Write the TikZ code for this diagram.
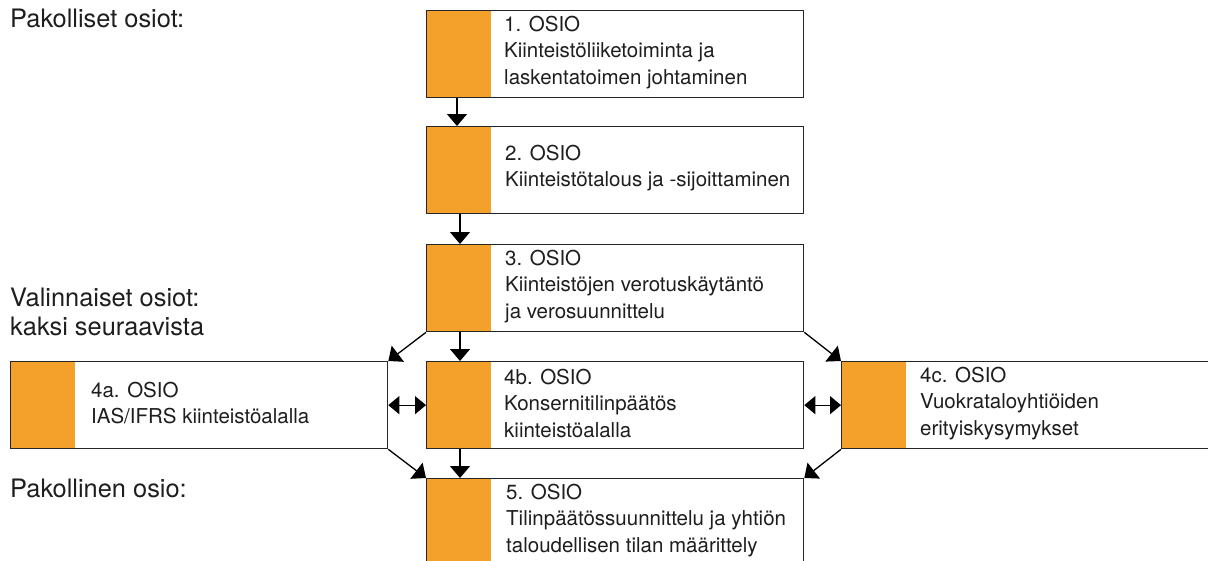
\documentclass[tikz,border=0pt]{standalone}
\usepackage{fontspec}
\setmainfont{TeX Gyre Heros}
\usetikzlibrary{arrows.meta}
\definecolor{osio}{HTML}{F3A12B}
\definecolor{edge}{HTML}{262626}
\definecolor{ink}{HTML}{1E1E1E}
\begin{document}
\begin{tikzpicture}[x=1pt,y=-1pt,
  osiobox/.style={draw=edge, line width=1.3pt, fill=white, minimum width=377pt,
    minimum height=87pt, inner sep=0pt, anchor=north west,
    path picture={\fill[osio] (path picture bounding box.north west) rectangle
      ([xshift=64pt]path picture bounding box.south west);}},
  osiotext/.style={anchor=west, align=left, inner sep=0pt, text=ink,
    font=\fontsize{20.5pt}{26.5pt}\selectfont},
  lbl/.style={align=left, inner sep=0pt, text=ink,
    font=\fontsize{25.4pt}{29pt}\selectfont},
  arr/.style={draw=black, line width=1.3pt, -{Triangle[width=20pt,length=12pt]}},
  darr/.style={draw=black, line width=1.3pt,
    {Triangle[width=18pt,length=11pt]}-{Triangle[width=18pt,length=11pt]}}]
\useasboundingbox (0,0) rectangle (1208,560);
\clip (0,0) rectangle (1208,560);

% labels
\node[lbl, anchor=base west] (l1) at (10,27) {Pakolliset osiot:};
\node[lbl, anchor=west] (l2) at (10,312) {Valinnaiset osiot:\\kaksi seuraavista};
\node[lbl, anchor=base west] (l3) at (10,497) {Pakollinen osio:};

% boxes
\node[osiobox] (b1) at (426,10) {};
\node[osiobox] (b2) at (426,126) {};
\node[osiobox] (b3) at (426,244) {};
\node[osiobox] (b4a) at (10,361) {};
\node[osiobox] (b4b) at (426,361) {};
\node[osiobox] (b4c) at (841,361) {};
\node[osiobox] (b5) at (426,478) {};

% texts
\node[osiotext] (t1) at ([xshift=78pt,yshift=2pt]b1.west) {1. OSIO\\Kiinteistöliiketoiminta ja\\laskentatoimen johtaminen};
\node[osiotext] (t2) at ([xshift=79pt,yshift=2pt]b2.west) {2. OSIO\\Kiinteistötalous ja -sijoittaminen};
\node[osiotext] (t3) at ([xshift=79pt,yshift=2pt]b3.west) {3. OSIO\\Kiinteistöjen verotuskäytäntö\\ja verosuunnittelu};
\node[osiotext] (t4a) at ([xshift=81pt,yshift=2pt]b4a.west) {4a. OSIO\\IAS/IFRS kiinteistöalalla};
\node[osiotext] (t4b) at ([xshift=78pt,yshift=2pt]b4b.west) {4b. OSIO\\Konsernitilinpäätös\\kiinteistöalalla};
\node[osiotext] (t4c) at ([xshift=79pt,yshift=2pt]b4c.west) {4c. OSIO\\Vuokrataloyhtiöiden\\erityiskysymykset};
\node[osiotext] (t5) at ([xshift=80pt,yshift=2pt]b5.west) {5. OSIO\\Tilinpäätössuunnittelu ja yhtiön\\taloudellisen tilan määrittely};

% connectors
\draw[arr] ([xshift=31pt]b1.south west) -- ([xshift=31pt]b2.north west);
\draw[arr] ([xshift=34pt]b2.south west) -- ([xshift=34pt]b3.north west);
\draw[arr] ([xshift=34pt]b3.south west) -- ([xshift=34pt]b4b.north west);
\draw[arr] ([xshift=34pt]b4b.south west) -- ([xshift=34pt]b5.north west);
\draw[arr] (b3.south west) -- (b4a.north east);
\draw[arr] (b3.south east) -- (b4c.north west);
\draw[arr] (b4a.south east) -- (b5.north west);
\draw[arr] (b4c.south west) -- (b5.north east);
\draw[darr] (b4a.east) -- (b4b.west);
\draw[darr] (b4b.east) -- (b4c.west);
\end{tikzpicture}
\end{document}
